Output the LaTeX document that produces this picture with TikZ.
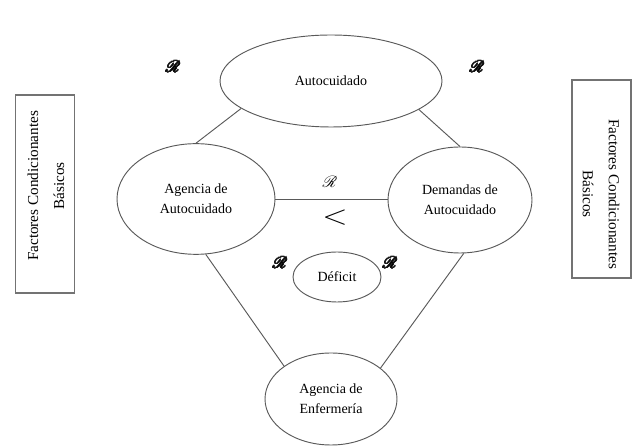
\documentclass[tikz,border=0pt]{standalone}
\usepackage{fontspec}
\setmainfont{Liberation Serif}
\usepackage{mathrsfs}
\usepackage{contour}
\usetikzlibrary{shapes.geometric}
\contourlength{0.3pt}
\newcommand{\relR}{$\mathscr{R}$}
\newcommand{\boldrelR}{\contour{black!85}{$\mathscr{R}$}}

\begin{document}
\begin{tikzpicture}[x=0.75pt,y=-0.75pt,
   concept/.style={draw=black!65,line width=0.7pt,ellipse,inner sep=0pt,align=center,
      font=\fontsize{10.5}{15}\selectfont},
   fcbox/.style={draw=black!55,line width=1pt,rectangle,inner sep=0pt,
      minimum width=44.5pt,minimum height=148.5pt},
   fctext/.style={align=center,font=\fontsize{11.4}{19.5}\selectfont,inner sep=0pt},
   rel/.style={font=\fontsize{12}{12}\selectfont,inner sep=0pt},
   link/.style={draw=black!65,line width=0.7pt}]

\useasboundingbox (0,0) rectangle (636,448);

% conceptos
\node[concept,minimum width=166.5pt,minimum height=69pt] (auto) at (331,81) {Autocuidado};
\node[concept,minimum width=118.5pt,minimum height=83pt] (agencia) at (196,199) {Agencia de\\Autocuidado};
\node[concept,minimum width=108pt,minimum height=79.5pt] (demandas) at (460,200) {Demandas de\\Autocuidado};
\node[concept,minimum width=66pt,minimum height=37.5pt] (deficit) at (337,277) {Déficit};
\node[concept,minimum width=99pt,minimum height=69pt] (enfermeria) at (331,399) {Agencia de\\Enfermería};

% factores condicionantes
\node[fcbox] (fcleft) at (45,194) {};
\node[fctext,rotate=90] (fclefttext) at (46,186) {Factores Condicionantes\\Básicos};
\node[fcbox,minimum width=44.25pt] (fcright) at (601.5,179) {};
\node[fctext,rotate=-90] (fcrighttext) at (601,194) {Factores Condicionantes\\Básicos};

% relaciones
\draw[link] (auto.197) -- (agencia.90);
\draw[link] (auto.342) -- (demandas.90);
\draw[link] (agencia.east) -- (agencia.east -| demandas.west);
\draw[link] (agencia.280) -- (enfermeria.145);
\draw[link] (demandas.274) -- (enfermeria.32);

\node[rel] (rtopleft) at (173,67) {\boldrelR};
\node[rel] (rtopright) at (477,67) {\boldrelR};
\node[rel] (rmid) at (330,182) {\relR};
\node[rel] (rdefleft) at (280,263) {\boldrelR};
\node[rel] (rdefright) at (390,263) {\boldrelR};
\node[inner sep=0pt,font=\fontsize{20}{20}\selectfont,xscale=1.2] (lessthan) at (335,218) {$<$};

\end{tikzpicture}
\end{document}
